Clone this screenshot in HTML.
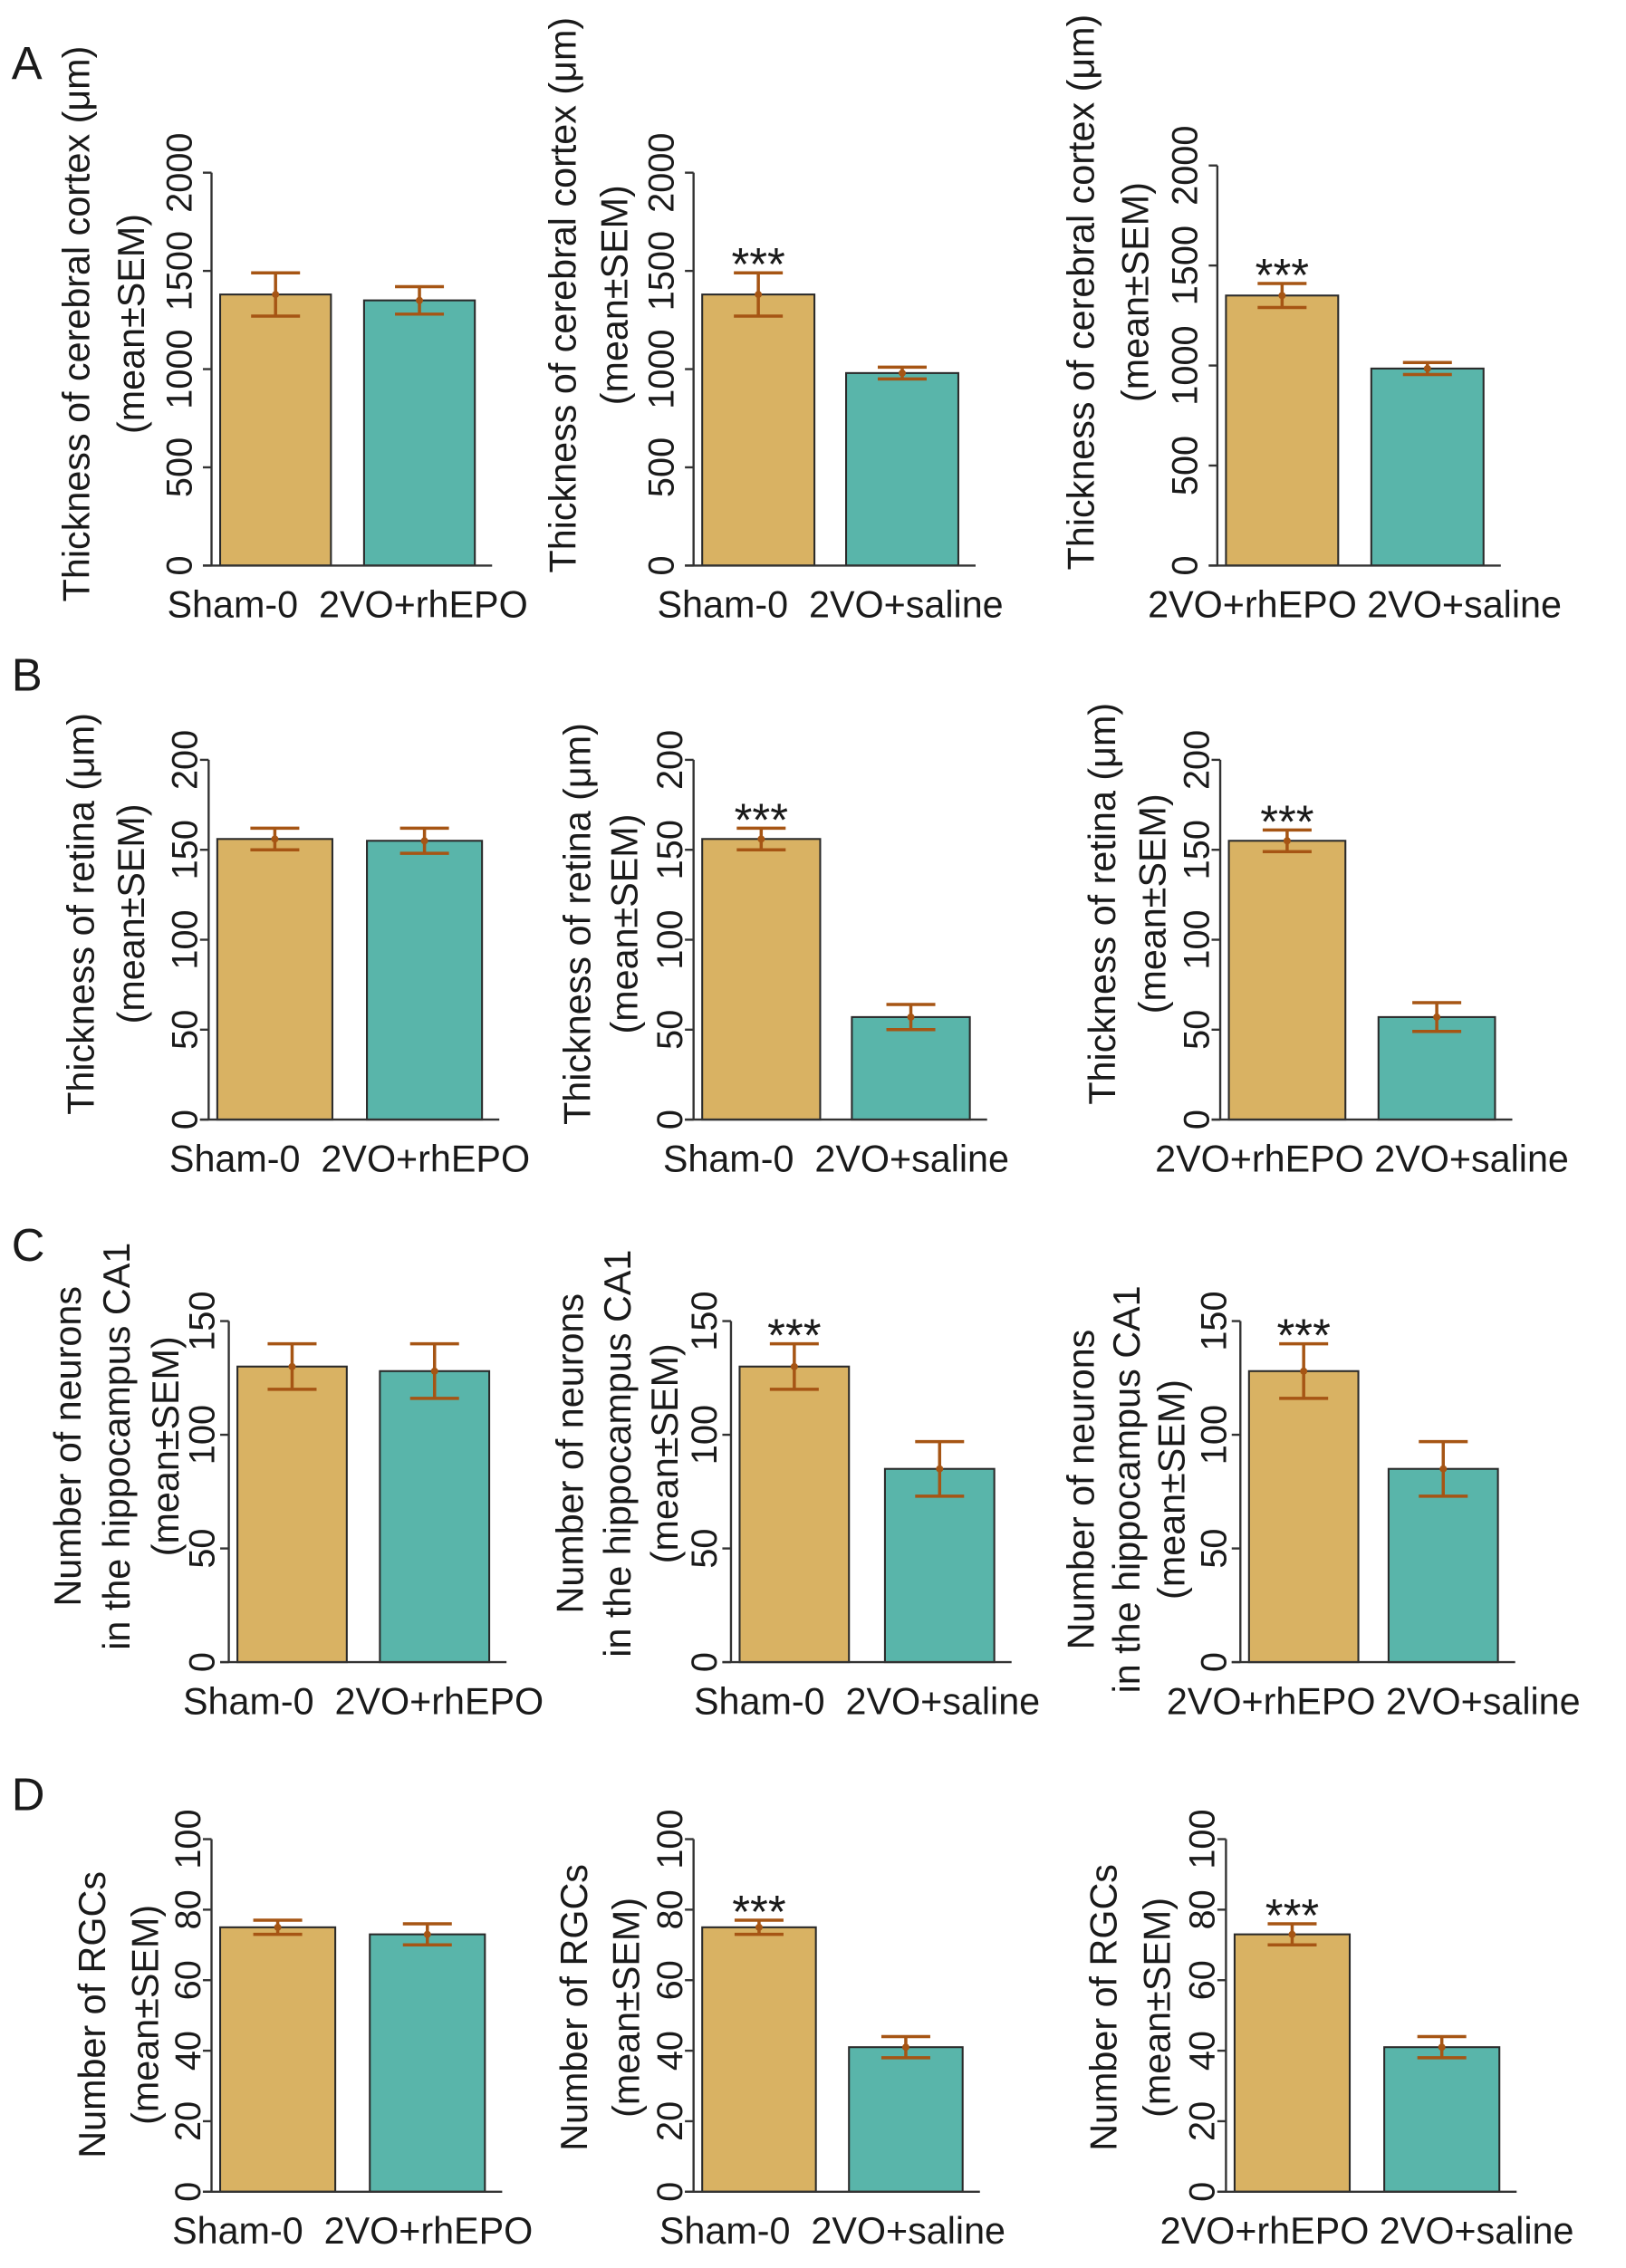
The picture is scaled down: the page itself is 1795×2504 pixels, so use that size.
<!DOCTYPE html>
<html><head><meta charset="utf-8"><style>
html,body{margin:0;padding:0;background:#fff;}
svg{display:block;}
text{font-family:"Liberation Sans",Arial,sans-serif;fill:#1a1a1a;white-space:pre;}
</style></head><body>
<svg id="fig" width="1795" height="2504" viewBox="0 0 1130 1576" preserveAspectRatio="none" xmlns="http://www.w3.org/2000/svg"></svg>
<script>
// Data
const rowMax = [2000, 200, 150, 100];
const rowTicks = [[0,500,1000,1500,2000],[0,50,100,150,200],[0,50,100,150],[0,20,40,60,80,100]];
const rowLetters = ['A','B','C','D'];
const rowTitleLines = [
  ['Thickness of cerebral cortex (\u03bcm)','(mean\u00b1SEM)'],
  ['Thickness of retina (\u03bcm)','(mean\u00b1SEM)'],
  ['Number of neurons','in the hippocampus CA1','(mean\u00b1SEM)'],
  ['Number of RGCs','(mean\u00b1SEM)']
];
const chartCats = [['Sham-0','2VO+rhEPO'],['Sham-0','2VO+saline'],['2VO+rhEPO','2VO+saline']];
const chartStars = [false,true,true];
const meansA = [[1380,1350],[1380,980],[1350,985]];
const semA = [[110,70],[110,30],[60,30]];
const meansB = [[156,155],[156,57],[155,57]];
const semB = [[6,7],[6,7],[6,8]];
const meansC = [[130,128],[130,85],[128,85]];
const semC = [[10,12],[10,12],[12,12]];
const meansD = [[75,73],[75,41],[73,41]];
const semD = [[2,3],[2,3],[3,3]];
const rowMeans=[meansA,meansB,meansC,meansD], rowSem=[semA,semB,semC,semD];

// Layout (display units)
const rowTop=[120,528,918,1278], rowZero=[393,778,1155,1523];
const topOverride=[[120,120,115],null,null,null];
const axisX=[[147,482,846],[145,482,848],[159,508,862],[147,482,852]];
const barL=[[[153,253],[488,588],[852,953]],[[151,255],[488,592],[854,958]],[[165,264],[514,615],[868,965]],[[153,257],[488,590],[858,962]]];
const barW=[[77,78,78],[80,82,81],[76,76,76],[80,79,80]];
const tickOff=[23,17,19,17];
const titleX=[[[54,92],[392,428],[752,790]],[[57,92],[402,435],[767,802]],[[48,82,116],[397,430,463],[752,784,815]],[[65,102],[400,436],[768,805]]];
const titleCY=[[225,205,203],[635,642,628],[1005,1010,1035],[1400,1395,1395]];
const letterPos=[[8,55],[8,480],[8,876],[8,1258]];
const NS='http://www.w3.org/2000/svg';
const svg=document.getElementById('fig');
function mk(tag,attrs,parent){const e=document.createElementNS(NS,tag);for(const k in attrs)e.setAttribute(k,attrs[k]);(parent||svg).appendChild(e);return e;}
const FS=25, FT=26;
for(let r=0;r<4;r++){
  const L=mk('text',{x:letterPos[r][0],y:letterPos[r][1],'font-size':32});
  L.textContent=rowLetters[r];
  
  
  for(let c=0;c<3;c++){
    const g=mk('g',{});
    
    
    const top=topOverride[r]?topOverride[r][c]:rowTop[r], zero=rowZero[r];
    const y=v=>zero-(v/rowMax[r])*(zero-top);
    const ax=axisX[r][c];
    const bw=barW[r][c];
    const bl=barL[r][c];
    const right=bl[1]+bw+12;
    for(let i=0;i<2;i++){
      const m=rowMeans[r][c][i], s=rowSem[r][c][i];
      const b=mk('rect',{x:bl[i],y:y(m),width:bw,height:zero-y(m),fill:i==0?'#d9b263':'#59b5aa',stroke:'#2a2a2a','stroke-width':1.3},g);
      
      
      const cx=bl[i]+bw/2;
      const eg=mk('g',{stroke:'#a65514','stroke-width':2.2,fill:'none'},g);
      
      
      mk('line',{x1:cx,x2:cx,y1:y(m+s),y2:y(m-s)},eg);
      mk('line',{x1:cx-17,x2:cx+17,y1:y(m+s),y2:y(m+s)},eg);
      mk('line',{x1:cx-17,x2:cx+17,y1:y(m-s),y2:y(m-s)},eg);
      mk('circle',{cx:cx,cy:y(m),r:2.5,fill:'#a65514',stroke:'none'},eg);
      if(i==0&&chartStars[c]){
        const st=mk('text',{x:cx,y:y(m+s)+5,'font-size':32,'text-anchor':'middle'},g);
        st.textContent='***';
        
        
      }
    }
    const mid=(bl[0]+bl[1]+bw)/2;
    const xl=mk('text',{x:mid,y:zero+36,'font-size':FT,'text-anchor':'middle'},g);
    xl.textContent=chartCats[c][0]+(c<2?'  ':' ')+chartCats[c][1];
    
    
    const ya=mk('line',{x1:ax,x2:ax,y1:top,y2:zero,stroke:'#333','stroke-width':1.5},g);
    
    
    const xa=mk('line',{x1:ax-6,x2:right,y1:zero,y2:zero,stroke:'#333','stroke-width':1.5},g);
    
    
    for(const t of rowTicks[r]){
      mk('line',{x1:ax-6,x2:ax,y1:y(t),y2:y(t),stroke:'#333','stroke-width':1.5},g);
      const tl=mk('text',{x:0,y:0,'font-size':FS,'text-anchor':'middle',transform:`translate(${ax-tickOff[r]+9},${y(t)}) rotate(-90)`},g);
      tl.textContent=t;
      
      
    }
    const lines=rowTitleLines[r];
    const xs=titleX[r][c];
    const cy=titleCY[r][c];
    lines.forEach((s,k)=>{
      const tt=mk('text',{x:0,y:0,'font-size':FT,'text-anchor':'middle',transform:`translate(${xs[k]+8},${cy}) rotate(-90)`},g);
      tt.textContent=s;
      
      
    });
  }
}
</script>
</body></html>
